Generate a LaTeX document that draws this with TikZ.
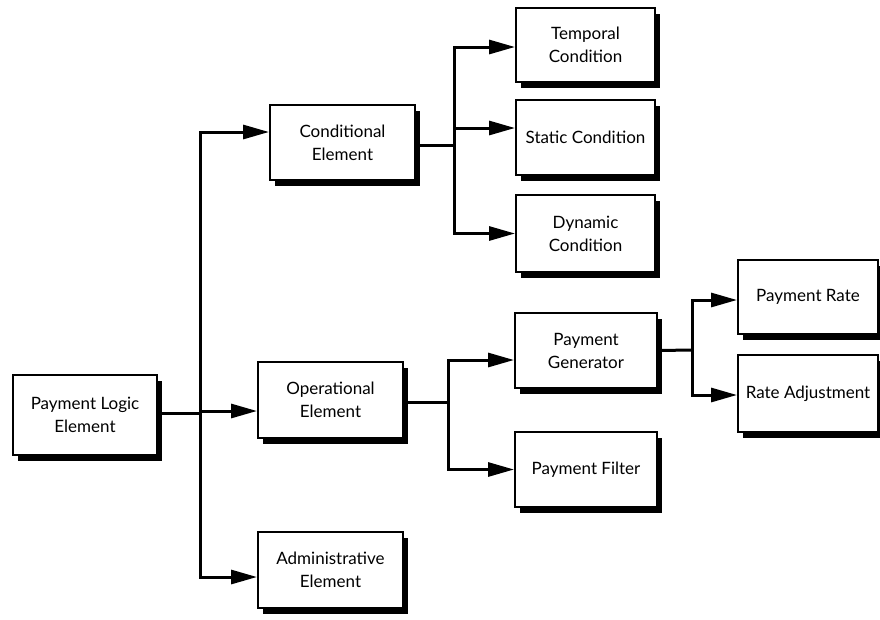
\documentclass[tikz,border=0pt]{standalone}
\usepackage{fontspec}
\setmainfont{Lato}
\usetikzlibrary{arrows.meta,shadows}
\begin{document}
\begin{tikzpicture}[x=1pt,y=-1pt,
  box/.style={draw, line width=2pt, fill=white, inner sep=0pt, align=center,
    font=\fontsize{17}{23}\selectfont,
    drop shadow={shadow xshift=5pt, shadow yshift=-6pt, fill=black, opacity=1}},
  wire/.style={line width=3pt},
  link/.style={line width=3pt, -{Triangle[length=26pt,width=14pt]}}]
\useasboundingbox (0,0) rectangle (880,619);

% boxes
\node[box, minimum width=144pt, minimum height=80pt] (ple)   at (85,415)    {Payment Logic\\Element};
\node[box, minimum width=145pt, minimum height=75pt] (cond)  at (342.5,142.5) {Conditional\\Element};
\node[box, minimum width=145pt, minimum height=76pt] (oper)  at (330.5,400) {Operational\\Element};
\node[box, minimum width=145pt, minimum height=76pt] (admin) at (330.5,570) {Administrative\\Element};
\node[box, minimum width=139pt, minimum height=74pt] (temp)  at (585.5,45)  {Temporal\\Condition};
\node[box, minimum width=139pt, minimum height=75pt] (stat)  at (585.5,137.5) {Static Condition};
\node[box, minimum width=139pt, minimum height=77pt] (dyn)   at (585.5,233.5) {Dynamic\\Condition};
\node[box, minimum width=142pt, minimum height=75pt] (gen)   at (586,350.5) {Payment\\Generator};
\node[box, minimum width=142pt, minimum height=75pt] (filt)  at (586,469.5) {Payment Filter};
\node[box, minimum width=140pt, minimum height=74pt] (rate)  at (808,297)   {Payment Rate};
\node[box, minimum width=140pt, minimum height=77pt] (adj)   at (808,393.5) {Rate Adjustment};

% branch points
\coordinate (b1) at (200,413);
\coordinate (b2) at (454,145);
\coordinate (b3) at (448,402);
\coordinate (b4) at (692,350);

% top level
\draw[wire] ([yshift=2pt]ple.east) -- (b1);
\draw[wire] (b1 |- 0,132) -- (b1 |- 0,577);
\draw[link] (b1) |- ([yshift=10.5pt]cond.west);
\draw[link] (b1) |- ([yshift=-11pt]oper.west);
\draw[link] (b1) |- ([yshift=-7pt]admin.west);

% conditional branch
\draw[wire] ([yshift=-2.5pt]cond.east) -- (b2);
\draw[link] (b2) |- ([yshift=-2pt]temp.west);
\draw[link] (b2) |- ([yshift=9.5pt]stat.west);
\draw[link] (b2) |- (dyn.west);

% operational branch
\draw[wire] ([yshift=-2pt]oper.east) -- (b3);
\draw[link] (b3) |- ([yshift=-9.5pt]gen.west);
\draw[link] (b3) |- (filt.west);

% generator branch
\draw[wire] (gen.east) -- (b4);
\draw[link] (b4) |- ([yshift=-3pt]rate.west);
\draw[link] (b4) |- ([yshift=-1.5pt]adj.west);
\end{tikzpicture}
\end{document}
